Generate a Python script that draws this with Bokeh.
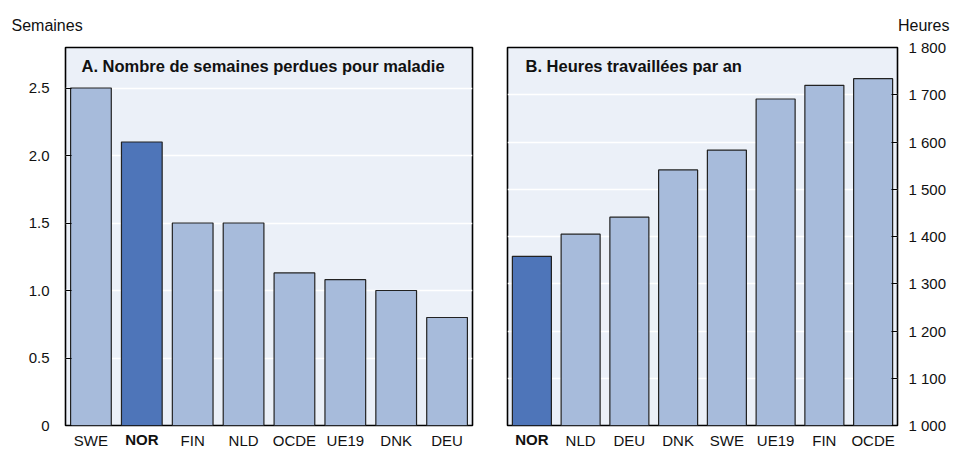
from bokeh.plotting import figure
from bokeh.models import Range1d, Label, FixedTicker, LinearAxis, Title
from bokeh.layouts import row
from bokeh.embed import file_html
from bokeh.resources import INLINE

# ---- data ----
cats_a = ["SWE", "NOR", "FIN", "NLD", "OCDE", "UE19", "DNK", "DEU"]
vals_a = [2.5, 2.1, 1.5, 1.5, 1.13, 1.08, 1.0, 0.8]
ticks_a = [0, 0.5, 1.0, 1.5, 2.0, 2.5]
tick_labels_a = ["0", "0.5", "1.0", "1.5", "2.0", "2.5"]

cats_b = ["NOR", "NLD", "DEU", "DNK", "SWE", "UE19", "FIN", "OCDE"]
vals_b = [1358, 1405, 1441, 1541, 1583, 1691, 1720, 1734]
ticks_b = [1000, 1100, 1200, 1300, 1400, 1500, 1600, 1700, 1800]
tick_labels_b = ["1 000", "1 100", "1 200", "1 300", "1 400", "1 500", "1 600", "1 700", "1 800"]

title_a = "A. Nombre de semaines perdues pour maladie"
title_b = "B. Heures travaillées par an"
unit_a = "Semaines"
unit_b = "Heures"
highlight = "NOR"

FONT = "Liberation Sans"
BG = "#EBF0F8"
LIGHT = "#A7BBDB"
DARK = "#4E75B9"
TXT = "#111111"
FH = 378
STAND = 0


def make_panel(cats, vals, ticks, tick_labels, y0, y1, axis_side, fw, bl, br, bottom):
    n = len(cats)
    xs = [i + 0.5 for i in range(n)]
    colors = [DARK if c == highlight else LIGHT for c in cats]
    p = figure(x_range=Range1d(0, n), y_range=Range1d(y0, y1),
               frame_width=fw, frame_height=FH, x_axis_type=None,
               y_axis_location=axis_side, output_backend="svg", toolbar_location=None,
               min_border_left=bl, min_border_right=br, min_border_top=47, min_border_bottom=26,
               background_fill_color=BG, border_fill_color="white")
    p.vbar(x=xs, top=vals, bottom=bottom, width=0.8, fill_color=colors,
           line_color="#222222", line_width=1.2)
    p.outline_line_color = "black"
    p.outline_line_width = 1.6
    p.ygrid.grid_line_color = "white"
    p.ygrid.grid_line_width = 1.5
    p.ygrid.ticker = FixedTicker(ticks=ticks)
    ya = p.yaxis[0]
    ya.ticker = FixedTicker(ticks=ticks)
    ya.major_label_overrides = {t: l for t, l in zip(ticks, tick_labels)}
    ya.axis_line_color = None
    ya.major_tick_in = 6
    ya.major_tick_out = 0
    ya.minor_tick_line_color = None
    ya.major_label_text_font = FONT
    ya.major_label_text_font_size = "15px"
    ya.major_label_text_color = TXT
    ya.major_label_standoff = 16 if axis_side == "left" else 11

    def xaxis(style, standoff, show):
        ax = LinearAxis(ticker=FixedTicker(ticks=xs), axis_line_color=None,
                        major_tick_line_color=None, minor_tick_line_color=None,
                        major_label_text_font=FONT, major_label_text_font_size="15px",
                        major_label_text_font_style=style, major_label_text_color=TXT,
                        major_label_standoff=standoff,
                        major_label_overrides={x: (c if show(c) else "") for x, c in zip(xs, cats)})
        p.add_layout(ax, "below")

    xaxis("normal", STAND, lambda c: c != highlight)
    # second axis carrying only the highlighted label in bold, pulled up onto the same line
    xaxis("bold", -27, lambda c: c == highlight)
    return p


pa = make_panel(cats_a, vals_a, ticks_a, tick_labels_a, 0, 2.8, "left", 407, 65, 8, 0)
pb = make_panel(cats_b, vals_b, ticks_b, tick_labels_b, 1000, 1800, "right", 390, 27, 56, 1000)

pa.add_layout(Label(x=16, y=FH - 18, x_units="screen", y_units="screen", text=title_a,
                    text_font=FONT, text_font_size="16.5px", text_font_style="bold",
                    text_color=TXT, text_baseline="alphabetic"))
pb.add_layout(Label(x=18, y=FH - 18, x_units="screen", y_units="screen", text=title_b,
                    text_font=FONT, text_font_size="16.5px", text_font_style="bold",
                    text_color=TXT, text_baseline="alphabetic"))

pa.add_layout(Title(text=unit_a, align="left", offset=-54, standoff=28, text_font=FONT,
                    text_font_size="16px", text_font_style="normal", text_color=TXT), "above")
pb.add_layout(Title(text=unit_b, align="right", offset=-52, standoff=28, text_font=FONT,
                    text_font_size="16px", text_font_style="normal", text_color=TXT), "above")

layout = row(pa, pb)
open("out.html", "w").write(file_html(layout, INLINE))
